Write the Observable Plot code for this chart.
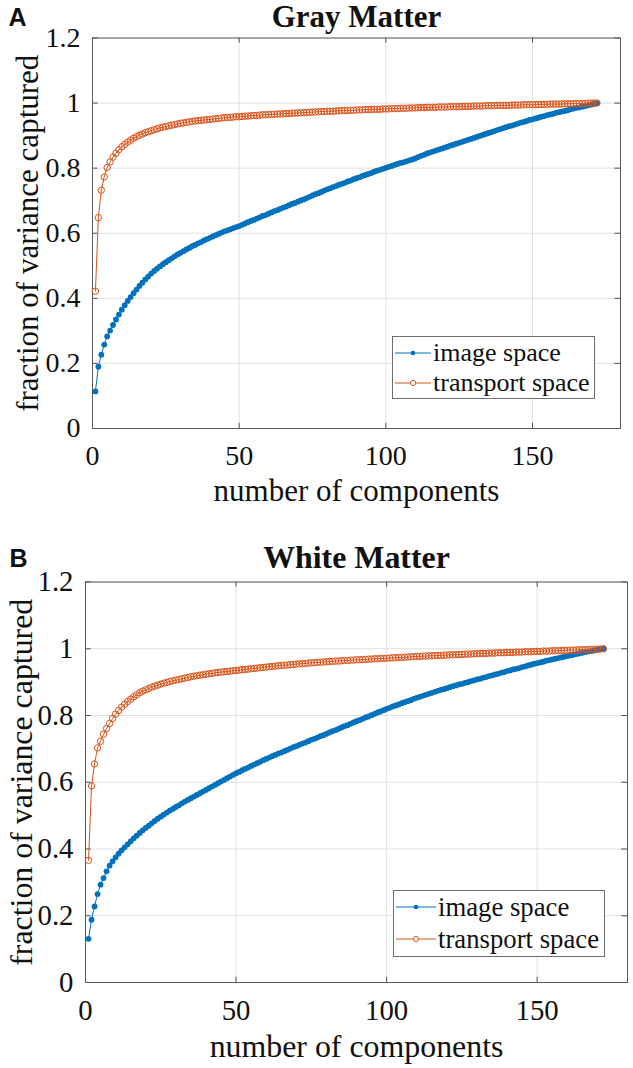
<!DOCTYPE html>
<html><head><meta charset="utf-8">
<script src="https://cdn.jsdelivr.net/npm/d3@7"></script>
<script src="https://cdn.jsdelivr.net/npm/@observablehq/plot@0.6"></script>
<style>
body{margin:0;background:#fff;width:633px;height:1068px;overflow:hidden}
.panel{position:relative;width:633px;height:534px}
.panel svg{display:block}
.legend{position:absolute;box-sizing:border-box;border:1px solid #6e6e6e;background:#fff;font-family:"Liberation Serif","Times New Roman",serif;color:#111}
.legend .row{display:flex;align-items:center;white-space:nowrap}
.legend svg{display:block;flex:none}
</style></head><body>
<div id="A" class="panel"></div><div id="B" class="panel"></div>
<script>
// ---------- data ----------
const seriesNames = ["image space", "transport space"];
const panelTitles = ["Gray Matter", "White Matter"];
const panelLetters = ["A", "B"];
const xLabel = "number of components";
const yLabel = "fraction of variance captured";
const xTickValues = [0, 50, 100, 150];
const xTickLabels = ["0", "50", "100", "150"];
const yTickValues = [0, 0.2, 0.4, 0.6, 0.8, 1, 1.2];
const yTickLabels = ["0", "0.2", "0.4", "0.6", "0.8", "1", "1.2"];

const grayImage = [
0.114,0.190,0.227,0.258,0.283,0.301,0.318,0.335,0.350,0.365,
0.379,0.392,0.404,0.416,0.427,0.438,0.448,0.458,0.467,0.476,
0.484,0.491,0.498,0.505,0.511,0.517,0.523,0.529,0.535,0.540,
0.545,0.550,0.555,0.560,0.564,0.569,0.573,0.578,0.582,0.586,
0.590,0.594,0.598,0.602,0.606,0.609,0.612,0.616,0.619,0.622,
0.626,0.630,0.634,0.638,0.641,0.645,0.649,0.653,0.656,0.660,
0.664,0.668,0.671,0.675,0.679,0.682,0.686,0.690,0.693,0.697,
0.701,0.704,0.708,0.712,0.716,0.720,0.723,0.727,0.731,0.735,
0.738,0.742,0.745,0.749,0.752,0.755,0.759,0.762,0.766,0.769,
0.772,0.776,0.779,0.782,0.785,0.789,0.792,0.795,0.798,0.801,
0.804,0.807,0.810,0.813,0.816,0.818,0.821,0.824,0.827,0.830,
0.834,0.838,0.841,0.845,0.848,0.851,0.854,0.857,0.860,0.863,
0.866,0.869,0.872,0.875,0.878,0.881,0.884,0.887,0.890,0.893,
0.896,0.899,0.902,0.905,0.908,0.911,0.914,0.917,0.920,0.923,
0.926,0.929,0.931,0.934,0.937,0.940,0.942,0.945,0.948,0.950,
0.953,0.955,0.958,0.960,0.963,0.965,0.967,0.970,0.972,0.974,
0.976,0.978,0.981,0.983,0.985,0.987,0.989,0.991,0.993,0.995,
0.998,1.000];

const grayTransport = [
0.422,0.648,0.732,0.773,0.802,0.819,0.834,0.846,0.857,0.866,
0.873,0.880,0.886,0.892,0.897,0.901,0.905,0.909,0.912,0.915,
0.918,0.921,0.924,0.926,0.928,0.930,0.932,0.934,0.936,0.938,
0.939,0.941,0.942,0.944,0.945,0.946,0.947,0.948,0.949,0.950,
0.951,0.952,0.953,0.954,0.955,0.956,0.956,0.957,0.958,0.958,
0.959,0.960,0.960,0.961,0.962,0.962,0.963,0.964,0.964,0.965,
0.965,0.966,0.966,0.967,0.967,0.968,0.968,0.969,0.969,0.970,
0.970,0.971,0.971,0.972,0.972,0.973,0.973,0.974,0.974,0.975,
0.975,0.975,0.976,0.976,0.977,0.977,0.977,0.978,0.978,0.979,
0.979,0.979,0.980,0.980,0.980,0.981,0.981,0.981,0.982,0.982,
0.982,0.983,0.983,0.983,0.984,0.984,0.984,0.985,0.985,0.985,
0.986,0.986,0.986,0.987,0.987,0.987,0.987,0.988,0.988,0.988,
0.988,0.989,0.989,0.989,0.989,0.990,0.990,0.990,0.990,0.991,
0.991,0.991,0.991,0.992,0.992,0.992,0.992,0.993,0.993,0.993,
0.993,0.993,0.994,0.994,0.994,0.994,0.995,0.995,0.995,0.995,
0.995,0.996,0.996,0.996,0.996,0.997,0.997,0.997,0.997,0.997,
0.998,0.998,0.998,0.998,0.999,0.999,0.999,0.999,1.000,1.000,
1.000,1.000];

const whiteImage = [
0.131,0.188,0.228,0.265,0.293,0.313,0.333,0.350,0.363,0.375,
0.386,0.396,0.405,0.414,0.423,0.432,0.440,0.448,0.456,0.463,
0.470,0.477,0.484,0.491,0.497,0.503,0.509,0.515,0.520,0.526,
0.531,0.537,0.542,0.547,0.552,0.557,0.562,0.567,0.572,0.577,
0.582,0.587,0.592,0.597,0.602,0.607,0.612,0.617,0.622,0.627,
0.631,0.636,0.640,0.644,0.649,0.653,0.657,0.661,0.666,0.670,
0.674,0.678,0.682,0.686,0.689,0.693,0.697,0.701,0.705,0.708,
0.712,0.716,0.719,0.723,0.727,0.730,0.734,0.738,0.741,0.745,
0.749,0.753,0.756,0.760,0.764,0.768,0.771,0.775,0.779,0.783,
0.786,0.790,0.794,0.797,0.801,0.805,0.809,0.812,0.816,0.820,
0.823,0.827,0.830,0.833,0.837,0.840,0.843,0.846,0.850,0.853,
0.856,0.859,0.862,0.865,0.868,0.871,0.874,0.877,0.879,0.882,
0.885,0.888,0.890,0.893,0.895,0.898,0.900,0.903,0.905,0.908,
0.910,0.913,0.915,0.918,0.920,0.923,0.925,0.928,0.930,0.933,
0.935,0.938,0.940,0.942,0.945,0.947,0.950,0.952,0.955,0.957,
0.959,0.961,0.964,0.966,0.968,0.970,0.972,0.974,0.976,0.978,
0.980,0.982,0.984,0.986,0.988,0.990,0.992,0.993,0.995,0.997,
0.999,1.000];

const whiteTransport = [
0.366,0.589,0.655,0.703,0.723,0.744,0.761,0.776,0.791,0.804,
0.815,0.825,0.834,0.842,0.849,0.856,0.862,0.868,0.873,0.877,
0.881,0.885,0.888,0.891,0.894,0.897,0.899,0.902,0.904,0.906,
0.908,0.910,0.912,0.914,0.916,0.918,0.919,0.921,0.922,0.924,
0.925,0.926,0.928,0.929,0.930,0.931,0.932,0.933,0.934,0.935,
0.936,0.937,0.938,0.939,0.940,0.941,0.942,0.943,0.944,0.945,
0.946,0.947,0.948,0.949,0.950,0.951,0.951,0.952,0.953,0.954,
0.955,0.955,0.956,0.957,0.958,0.958,0.959,0.960,0.960,0.961,
0.962,0.962,0.963,0.963,0.964,0.965,0.965,0.966,0.966,0.967,
0.967,0.968,0.968,0.969,0.969,0.970,0.970,0.971,0.971,0.972,
0.972,0.973,0.973,0.974,0.974,0.975,0.975,0.976,0.976,0.977,
0.977,0.978,0.978,0.979,0.979,0.979,0.980,0.980,0.981,0.981,
0.982,0.982,0.982,0.983,0.983,0.984,0.984,0.984,0.985,0.985,
0.986,0.986,0.986,0.987,0.987,0.987,0.988,0.988,0.988,0.989,
0.989,0.989,0.990,0.990,0.990,0.991,0.991,0.991,0.992,0.992,
0.992,0.993,0.993,0.993,0.994,0.994,0.994,0.995,0.995,0.995,
0.996,0.996,0.996,0.997,0.997,0.997,0.998,0.998,0.998,0.999,
0.999,1.000];

// ---------- style ----------
const BLUE = "#0072BD", ORANGE = "#D95319";
const SERIF = "Liberation Serif";
const SANS = "Liberation Sans";

function rows(values) { return values.map((v, i) => ({component: i + 1, value: v})); }

function drawPanel(el, cfg) {
  const img = rows(cfg.image), tr = rows(cfg.transport);
  const s = cfg.scale;
  const gridStyle = {stroke: "#e1e1e1", strokeOpacity: 1, strokeWidth: 1};
  const tickStyle = {stroke: "#555", strokeWidth: 1};
  const plot = Plot.plot({
    width: 633, height: 534,
    marginTop: cfg.mt, marginBottom: cfg.mb, marginLeft: cfg.ml, marginRight: cfg.mr,
    x: {domain: [0, 180], label: null, axis: null},
    y: {domain: [0, 1.2], label: null, axis: null},
    style: {fontFamily: SERIF, background: "white", color: "#111", overflow: "visible"},
    marks: [
      Plot.gridX(xTickValues, gridStyle),
      Plot.gridY(yTickValues, gridStyle),
      Plot.ruleX(xTickValues, {x: d => d, y1: 0, y2: 0.016, ...tickStyle}),
      Plot.ruleX(xTickValues, {x: d => d, y1: 1.184, y2: 1.2, ...tickStyle}),
      Plot.ruleY(yTickValues, {y: d => d, x1: 0, x2: 1.9, ...tickStyle}),
      Plot.ruleY(yTickValues, {y: d => d, x1: 178.1, x2: 180, ...tickStyle}),
      Plot.frame({stroke: "#5a5a5a", strokeWidth: 1}),
      // tick labels
      Plot.text(xTickValues, {x: d => d, text: d => xTickLabels[xTickValues.indexOf(d)], frameAnchor: "bottom",
        dy: 17 * s, lineAnchor: "top", fontFamily: SERIF, fontSize: 28 * s, fill: "#111"}),
      Plot.text(yTickValues, {y: d => d, text: d => yTickLabels[yTickValues.indexOf(d)], frameAnchor: "left",
        dx: -12, textAnchor: "end", lineAnchor: "middle", fontFamily: SERIF, fontSize: 28 * s, fill: "#111"}),
      // series
      Plot.line(img, {x: "component", y: "value", stroke: BLUE, strokeWidth: 1}),
      Plot.dot(img, {x: "component", y: "value", r: 2.9, fill: BLUE, stroke: "none"}),
      Plot.line(tr, {x: "component", y: "value", stroke: ORANGE, strokeWidth: 1}),
      Plot.dot(tr, {x: "component", y: "value", r: 3.2, fill: "none", stroke: ORANGE, strokeWidth: 1}),
      // titles and labels
      Plot.text([cfg.title], {text: d => d, frameAnchor: "top", dy: cfg.titleDy, lineAnchor: "bottom",
        fontFamily: SERIF, fontSize: 31 * s, fontWeight: "bold", fill: "#111"}),
      Plot.text([cfg.letter], {text: d => d, frameAnchor: "top-left", dx: cfg.letterDx, dy: cfg.titleDy - 1,
        textAnchor: "start", lineAnchor: "bottom", fontFamily: SANS, fontWeight: "bold", fontSize: 25, fill: "#111"}),
      Plot.text([xLabel], {text: d => d, frameAnchor: "bottom", dy: 72 * s, lineAnchor: "bottom",
        fontFamily: SERIF, fontSize: 31 * s, fill: "#111"}),
      Plot.text([yLabel], {text: d => d, frameAnchor: "left", dx: cfg.yLabelDx, rotate: -90,
        lineAnchor: "bottom", textAnchor: "middle", fontFamily: SERIF, fontSize: 31 * s, fill: "#111"})
    ]
  });
  el.appendChild(plot);

  // legend
  const lg = document.createElement("div");
  lg.className = "legend";
  Object.assign(lg.style, {left: cfg.lg.left + "px", top: cfg.lg.top + "px", width: cfg.lg.w + "px",
    height: cfg.lg.h + "px", paddingTop: cfg.lg.pt + "px", fontSize: (26 * s) + "px"});
  const sw = cfg.lg.sw, rh = cfg.lg.rh;
  seriesNames.forEach((name, i) => {
    const row = document.createElement("div");
    row.className = "row";
    row.style.height = rh + "px";
    const col = i === 0 ? BLUE : ORANGE;
    const marker = i === 0
      ? `<circle cx="${sw / 2}" cy="${rh / 2}" r="2.3" fill="${col}"/>`
      : `<circle cx="${sw / 2}" cy="${rh / 2}" r="2.6" fill="white" stroke="${col}" stroke-width="1"/>`;
    row.innerHTML = `<svg width="${sw}" height="${rh}"><line x1="2" x2="${sw - 2}" y1="${rh / 2}" y2="${rh / 2}" stroke="${col}" stroke-width="1"/>${marker}</svg><span>${name}</span>`;
    lg.appendChild(row);
  });
  el.appendChild(lg);
}

drawPanel(document.getElementById("A"), {
  image: grayImage, transport: grayTransport, title: panelTitles[0], letter: panelLetters[0], scale: 1,
  mt: 37.5, mb: 106, ml: 92, mr: 13, titleDy: -11.5, letterDx: -84, yLabelDx: -55,
  lg: {left: 392, top: 336, w: 203, h: 63, pt: 1, rh: 30, sw: 40}
});
drawPanel(document.getElementById("B"), {
  image: whiteImage, transport: whiteTransport, title: panelTitles[1], letter: panelLetters[1], scale: 1.028,
  mt: 47.5, mb: 86, ml: 85, mr: 6, titleDy: -14.5, letterDx: -76, yLabelDx: -54,
  lg: {left: 393, top: 356, w: 212, h: 67, pt: 0, rh: 32, sw: 44}
});
</script>
</body></html>
